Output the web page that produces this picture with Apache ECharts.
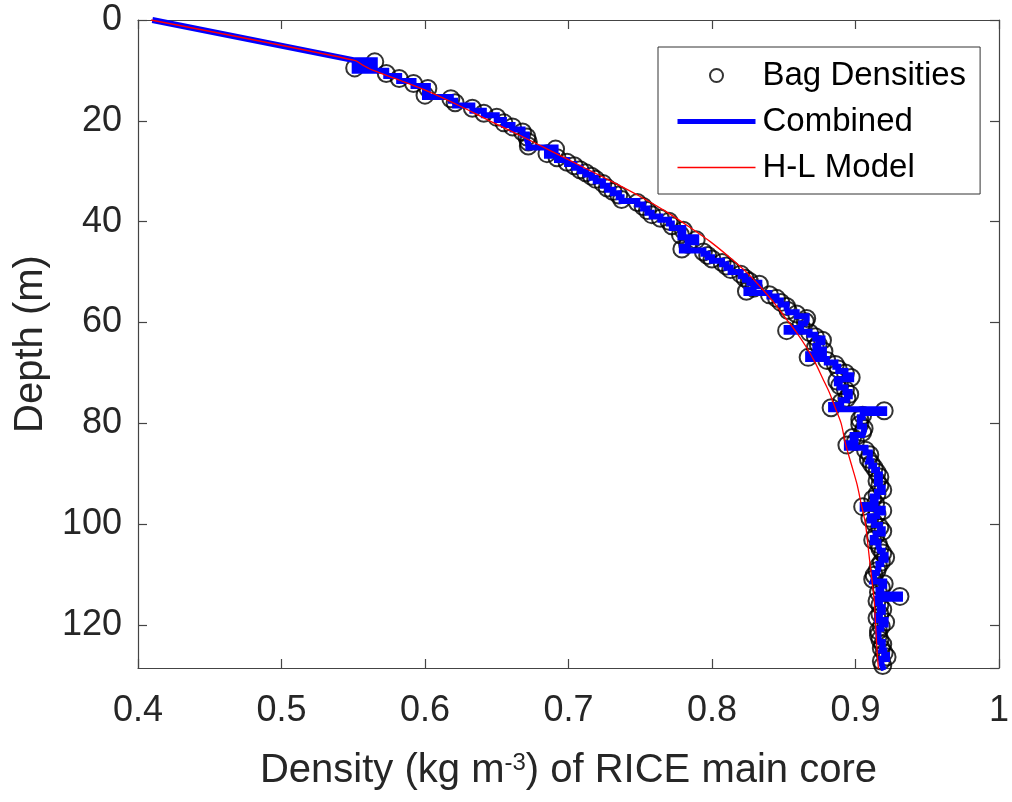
<!DOCTYPE html>
<html>
<head>
<meta charset="utf-8">
<script src="https://cdn.jsdelivr.net/npm/echarts@6/dist/echarts.min.js"></script>
<style>html,body{margin:0;padding:0;background:#fff}#c{width:1012px;height:802px}</style>
</head>
<body>
<div id="c"></div>
<script>
// Bag densities: depth (m) of bag centre and density
const bagDepth = [8.3, 9.5, 10.6, 11.6, 12.6, 13.6, 14.9, 15.6, 16.4, 17.5, 18.5, 19.3, 20.4, 21.2, 22.2, 23.2, 24.2, 25.0, 25.6, 26.5,
  27.3, 28.2, 28.9, 29.7, 30.3, 31.0, 31.6, 32.4, 33.3, 34.0, 34.7, 35.6, 36.2, 37.0, 37.8, 38.6, 39.3, 39.9, 40.8, 41.7,
  42.6, 43.6, 44.5, 45.4, 46.0, 46.7, 47.4, 48.1, 48.8, 49.5, 50.4, 51.2, 51.8, 52.4, 53.2, 53.8, 54.5, 55.2, 56.0, 56.8,
  57.6, 58.3, 59.2, 59.8, 60.6, 61.6, 62.0, 62.8, 63.5, 64.3, 65.0, 65.7, 66.9, 67.5, 68.3, 69.2, 70.0, 70.9, 71.6, 72.5,
  73.3, 74.2, 75.0, 75.8, 76.9, 77.5, 78.4, 79.2, 80.2, 81.0, 81.8, 82.8, 83.6, 84.3, 85.3, 86.2, 87.1, 88.0, 88.8, 89.7,
  90.6, 91.4, 92.3, 93.2, 94.0, 95.0, 95.9, 96.5, 97.3, 98.0, 98.8, 99.7, 100.6, 101.4, 102.3, 103.1, 104.0, 104.8, 105.7, 106.6,
  107.5, 108.3, 109.2, 110.1, 110.9, 111.8, 112.6, 113.5, 114.3, 115.2, 116.0, 116.9, 117.8, 118.6, 119.4, 120.3, 121.1, 122.0, 122.9, 123.8,
  124.6, 125.5, 126.3, 127.1, 128.0, 128.6];
const bagDensity = [0.565, 0.551, 0.573, 0.582, 0.592, 0.602, 0.600, 0.618, 0.621, 0.633, 0.641, 0.650, 0.655, 0.661, 0.668, 0.671, 0.672, 0.672, 0.691, 0.685,
  0.692, 0.699, 0.704, 0.708, 0.712, 0.716, 0.719, 0.724, 0.727, 0.731, 0.735, 0.737, 0.748, 0.752, 0.755, 0.758, 0.764, 0.770, 0.772, 0.780,
  0.778, 0.789, 0.783, 0.779, 0.794, 0.797, 0.800, 0.807, 0.810, 0.813, 0.820, 0.823, 0.826, 0.833, 0.829, 0.824, 0.840, 0.845, 0.848, 0.852,
  0.853, 0.859, 0.866, 0.865, 0.862, 0.852, 0.868, 0.872, 0.877, 0.874, 0.872, 0.878, 0.867, 0.880, 0.886, 0.888, 0.893, 0.897, 0.887, 0.889,
  0.893, 0.896, 0.894, 0.890, 0.883, 0.920, 0.905, 0.903, 0.903, 0.906, 0.905, 0.898, 0.900, 0.894, 0.907, 0.910, 0.909, 0.911, 0.913, 0.915,
  0.917, 0.915, 0.917, 0.919, 0.915, 0.912, 0.914, 0.905, 0.919, 0.915, 0.910, 0.913, 0.917, 0.919, 0.914, 0.912, 0.916, 0.917, 0.919, 0.921,
  0.918, 0.916, 0.915, 0.913, 0.912, 0.920, 0.918, 0.916, 0.931, 0.915, 0.917, 0.919, 0.917, 0.915, 0.921, 0.918, 0.916, 0.916, 0.917, 0.919,
  0.918, 0.920, 0.922, 0.918, 0.919, 0.920];

// Combined profile: near-surface segment (before the bag record starts)
const surfaceDepth = [0, 8.0];
const surfaceDensity = [0.41, 0.551];

// Herron-Langway model curve
const hlDepth = [0, 8, 9, 10, 12, 14, 17, 20, 23, 26, 29, 32, 35, 38, 41, 44, 47, 50, 53, 56, 59, 62, 65, 68, 71, 74, 77, 80, 84, 88, 92, 96, 100, 105, 110, 115, 120, 125, 128.7];
const hlDensity = [0.409, 0.551, 0.557, 0.564, 0.583, 0.601, 0.624, 0.645, 0.667, 0.688, 0.709, 0.730, 0.750, 0.768, 0.784, 0.799, 0.812, 0.824, 0.834, 0.843, 0.851, 0.859, 0.866, 0.872, 0.877, 0.882, 0.886, 0.890, 0.893, 0.897, 0.901, 0.904, 0.907, 0.909, 0.911, 0.913, 0.914, 0.915, 0.916];

const xTicks = [0.4, 0.5, 0.6, 0.7, 0.8, 0.9, 1];
const yTicks = [0, 20, 40, 60, 80, 100, 120];

// build tables
const bagData = bagDepth.map((d, i) => [bagDensity[i], d]);
const combinedData = surfaceDepth.map((d, i) => [surfaceDensity[i], d]);
for (let i = 0; i < bagDepth.length; i++) {
  const top = i === 0 ? surfaceDepth[surfaceDepth.length - 1] : (bagDepth[i - 1] + bagDepth[i]) / 2;
  const bot = i === bagDepth.length - 1 ? bagDepth[i] + (bagDepth[i] - bagDepth[i - 1]) / 2 : (bagDepth[i] + bagDepth[i + 1]) / 2;
  combinedData.push([bagDensity[i], top], [bagDensity[i], bot]);
}
const hlData = hlDepth.map((d, i) => [hlDensity[i], d]);

const axisCol = '#444';
const labCol = '#262626';
const font = 'Liberation Sans, Arial, Helvetica, sans-serif';

const chart = echarts.init(document.getElementById('c'), null, {renderer: 'canvas'});
chart.setOption({
  backgroundColor: '#fff',
  animation: false,
  textStyle: {fontFamily: font},
  grid: {left: 138, right: 6, top: 20, bottom: 134, containLabel: false},
  legend: {
    orient: 'vertical',
    left: 658, top: 47,
    backgroundColor: '#fff',
    borderColor: '#333', borderWidth: 1, borderRadius: 0,
    padding: [12, 14, 10, 17],
    itemGap: 13,
    itemWidth: 78, itemHeight: 13,
    textStyle: {fontSize: 33, lineHeight: 33, color: '#000', fontFamily: font, padding: [0, 0, 0, 2]},
    data: [
      {name: 'Bag Densities', icon: 'circle', itemStyle: {color: 'rgba(0,0,0,0)', borderColor: '#000', borderWidth: 2}},
      {name: 'Combined', lineStyle: {width: 5, color: '#0000ff', opacity: 1}, itemStyle: {opacity: 0}},
      {name: 'H-L Model', lineStyle: {width: 1.5, color: '#ff0000', opacity: 1}, itemStyle: {opacity: 0}}
    ]
  },
  xAxis: [{
    type: 'value', position: 'bottom', min: 0.4, max: 1, interval: 0.1,
    axisLine: {show: true, onZero: false, lineStyle: {color: axisCol, width: 1.2}},
    axisTick: {show: true, inside: true, length: 9, lineStyle: {color: axisCol, width: 1.2}},
    splitLine: {show: false},
    axisLabel: {fontSize: 36, lineHeight: 36, color: labCol, margin: 25, fontFamily: font,
      formatter: v => { const t = xTicks.find(k => Math.abs(k - v) < 1e-6); return t === undefined ? '' : String(t); }},
    name: '{a|Density (kg m}{s|-3}{a|) of RICE main core}',
    nameLocation: 'middle', nameGap: 83,
    nameTextStyle: {
      color: labCol, fontFamily: font,
      rich: {
        a: {fontSize: 40, lineHeight: 40, padding: [14, 0, 0, 0], color: labCol, fontFamily: font, verticalAlign: 'bottom'},
        s: {fontSize: 24, lineHeight: 24, color: labCol, fontFamily: font, verticalAlign: 'top'}
      }
    }
  }, {
    type: 'value', position: 'top', min: 0.4, max: 1, interval: 0.1,
    axisLine: {show: true, onZero: false, lineStyle: {color: axisCol, width: 1.2}},
    axisTick: {show: true, inside: true, length: 9, lineStyle: {color: axisCol, width: 1.2}},
    axisLabel: {show: false}, splitLine: {show: false}
  }],
  yAxis: [{
    type: 'value', position: 'left', inverse: true, min: 0, max: 128.5, interval: 20,
    axisLine: {show: true, onZero: false, lineStyle: {color: axisCol, width: 1.2}},
    axisTick: {show: true, inside: true, length: 9, lineStyle: {color: axisCol, width: 1.2}},
    splitLine: {show: false},
    axisLabel: {fontSize: 36, color: labCol, margin: 16, fontFamily: font, showMaxLabel: false,
      formatter: v => (yTicks.indexOf(v) >= 0 ? String(v) : '')},
    name: 'Depth (m)', nameLocation: 'middle', nameGap: 86, nameRotate: 90,
    nameTextStyle: {fontSize: 40, lineHeight: 40, color: labCol, fontFamily: font}
  }, {
    type: 'value', position: 'right', inverse: true, min: 0, max: 128.5, interval: 20,
    axisLine: {show: true, onZero: false, lineStyle: {color: axisCol, width: 1.2}},
    axisTick: {show: true, inside: true, length: 9, lineStyle: {color: axisCol, width: 1.2}},
    axisLabel: {show: false}, splitLine: {show: false}
  }],
  series: [
    {
      name: 'Bag Densities', type: 'scatter', data: bagData,
      xAxisIndex: 0, yAxisIndex: 0,
      symbol: 'circle', symbolSize: 17,
      itemStyle: {color: 'rgba(0,0,0,0)', borderColor: '#000', borderWidth: 2},
      z: 2, silent: true
    },
    {
      name: 'Combined', type: 'line', data: combinedData,
      xAxisIndex: 0, yAxisIndex: 0,
      showSymbol: false, symbol: 'none',
      lineStyle: {color: '#0000ff', width: 6, join: 'miter'},
      itemStyle: {color: '#0000ff'},
      z: 3, silent: true
    },
    {
      name: 'H-L Model', type: 'line', data: hlData, smooth: 0.3,
      xAxisIndex: 0, yAxisIndex: 0,
      showSymbol: false, symbol: 'none',
      lineStyle: {color: '#ff0000', width: 1.3},
      itemStyle: {color: '#ff0000'},
      z: 4, silent: true
    }
  ]
});
</script>
</body>
</html>
